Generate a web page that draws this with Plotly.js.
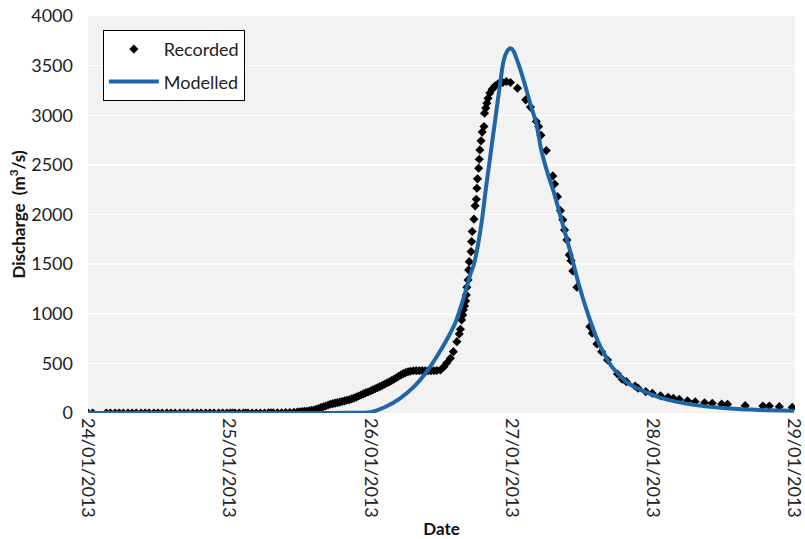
<!DOCTYPE html>
<html>
<head>
<meta charset="utf-8">
<script src="https://cdn.plot.ly/plotly-3.0.1.min.js"></script>
<style>html,body{margin:0;padding:0;background:#fff;}#chart{width:805px;height:539px;}</style>
</head>
<body>
<div id="chart"></div>
<script>
// Hours since 24/01/2013 00:00 and discharge (m3/s)
const recordedHours = [
  0, 0.8, 3.1, 3.8, 4.6, 5.3, 6.0, 6.8, 7.5, 8.2, 9.0, 9.7, 10.4, 11.2, 11.9, 12.6, 13.4, 14.1, 14.8, 15.6,
  16.3, 17.0, 17.8, 18.5, 19.2, 20.0, 20.7, 21.4, 22.2, 22.9, 23.6, 24.2, 24.6, 25.0, 25.7, 26.4, 26.8, 27.2,
  27.9, 28.6, 29.3, 30.0, 30.7, 31.1, 31.5, 32.2, 32.9, 33.6, 34.3, 35.0, 35.6,
  36.0, 36.4, 36.8, 37.2, 37.6, 38.0, 38.4, 38.8, 39.2, 39.6, 40.0, 40.4, 40.8, 41.2, 41.6, 42.0, 42.4, 42.8,
  43.2, 43.6, 44.0, 44.4, 44.8, 45.2, 45.6, 46.0, 46.4, 46.8, 47.2, 47.6, 48.0, 48.4, 48.8, 49.2, 49.6, 50.0,
  50.4, 50.8, 51.2, 51.6, 52.0, 52.4, 52.8, 53.2, 53.6, 54.0, 54.4, 54.8,
  55.3, 55.8, 56.3, 56.8, 57.3, 57.8, 58.3, 58.8, 59.3,
  59.9, 60.5, 61.0, 61.6, 62.1, 62.7, 63.1, 63.3, 63.5, 63.7, 63.8, 64.0, 64.2, 64.3, 64.4, 64.6, 64.7, 64.8,
  65.1, 65.2, 65.3, 65.6, 65.8, 66.0, 66.1, 66.2, 66.4, 66.5, 66.6, 66.8, 67.0, 67.3, 67.4, 67.6, 67.8, 68.0,
  68.3, 68.7, 69.2, 69.7, 70.5, 71.1, 71.8, 73.0, 74.4,
  75.2, 76.2, 76.6, 77.0, 77.9, 79.0, 79.3, 79.8, 80.3, 80.7, 81.0, 81.4, 81.8, 82.1, 82.4, 83.1,
  85.3, 85.7, 86.5, 87.3, 88.3, 90.0, 90.8, 91.5, 93.0, 93.5, 94.8, 95.9,
  97.3, 98.6, 99.5, 100.5, 101.9, 103.2, 104.8, 106.1, 107.7, 108.7, 111.7, 114.7, 115.8, 117.5, 119.7
];
const recordedDischarge = [
  0, 0, 0, 0, 0, 0, 0, 0, 0, 0, 0, 0, 0, 0, 0, 0, 0, 0, 0, 0,
  0, 0, 0, 0, 0, 0, 0, 0, 0, 0, 0, 0, 0, 0, 0, 0, 0, 0,
  0, 0, 0, 0, 1, 1, 1, 2, 3, 4, 5, 7, 9,
  12, 14, 16, 18, 22, 26, 30, 38, 46, 55, 63, 70, 80, 88, 94, 100, 105, 110,
  116, 122, 128, 134, 142, 150, 160, 172, 182, 193, 203, 212, 222, 233, 244, 255, 266, 277,
  290, 302, 314, 328, 340, 355, 370, 384, 397, 407, 415, 420,
  425, 427, 426, 427, 426, 426, 427, 426, 428,
  433, 467, 507, 551, 618, 719, 796, 844, 938, 988, 1038, 1079, 1129, 1190, 1267, 1341, 1442, 1525,
  1626, 1727, 1828, 1953, 2087, 2154, 2265, 2359, 2467, 2557, 2651, 2742, 2830, 2886, 3021, 3072, 3122, 3172,
  3223, 3263, 3296, 3317, 3330, 3340, 3330, 3273, 3155,
  3082, 2937, 2886, 2799, 2644, 2389, 2308, 2180, 2039, 1946, 1845, 1744, 1593, 1535, 1431, 1267,
  870, 803, 696, 618, 534, 393, 340, 316, 272, 249, 215, 199,
  174, 158, 148, 138, 124, 114, 104, 98, 91, 88, 74, 71, 71, 64, 57
];
const modelledHours = [
  0, 40, 44, 48, 50.5, 53, 55.5, 57.5, 59.5, 61, 62.5, 63.8, 65, 65.6, 66.3, 67, 67.6, 68.4, 69.2,
  70.0, 70.6, 71.2, 71.8, 72.3, 72.9, 73.7, 74.5, 75.3, 76.2, 77.0, 78.1, 79.2, 80.6, 82.0, 83.4,
  85.1, 86.8, 89.0, 91.8, 94.6, 97.5, 103, 108.6, 114.2, 120
];
const modelledDischarge = [
  0, 0, 2, 8, 60, 145, 270, 410, 590, 740, 920, 1150, 1400, 1500, 1700, 1960, 2250, 2600, 2950,
  3300, 3540, 3640, 3675, 3650, 3560, 3420, 3260, 3090, 2920, 2660, 2420, 2220, 1920, 1620, 1300,
  975, 705, 470, 300, 215, 150, 82, 48, 30, 22
];
const seriesNames = ['Recorded', 'Modelled'];
const xTitle = 'Date';
const yTitle = 'Discharge  (m<sup>3</sup>/s)';

const base = Date.UTC(2013, 0, 24);
const toDate = h => new Date(base + h * 3600000).toISOString().slice(0, 19).replace('T', ' ');

const font = 'Lato, "Open Sans", sans-serif';

const traces = [
  {
    x: recordedHours.map(toDate), y: recordedDischarge,
    type: 'scatter', mode: 'markers', name: seriesNames[0],
    legendgroup: 'a',
    marker: {symbol: 'diamond', size: 7, color: '#000000'}
  },
  {
    x: modelledHours.map(toDate), y: modelledDischarge,
    type: 'scatter', mode: 'lines', name: seriesNames[1],
    legendgroup: 'b',
    line: {color: '#1f66a6', width: 4, shape: 'spline', smoothing: 0.6}
  }
];

const layout = {
  width: 805, height: 539,
  margin: {l: 88, r: 10, t: 16, b: 126},
  paper_bgcolor: '#ffffff',
  plot_bgcolor: '#f2f2f2',
  font: {family: font, size: 17, color: '#222222'},
  showlegend: true,
  legend: {
    x: 0.021, y: 0.965, xanchor: 'left', yanchor: 'top',
    bgcolor: '#ffffff', bordercolor: '#000000', borderwidth: 1,
    font: {family: font, size: 18, color: '#222222'},
    traceorder: 'grouped', tracegroupgap: 6,
    itemwidth: 50
  },
  xaxis: {
    type: 'date',
    range: ['2013-01-24 00:00', '2013-01-29 00:10'],
    dtick: 86400000, tick0: '2013-01-24',
    tickformat: '%d/%m/%Y', tickangle: 90,
    showgrid: false, zeroline: false, showline: false, ticks: '',
    ticklabelstandoff: 4,
    ticklabeloverflow: 'allow',
    tickfont: {family: font, size: 18, color: '#222222'},
    title: {text: xTitle, font: {family: font, size: 17, color: '#111111', weight: 'bold'}, standoff: 10},
    automargin: false
  },
  yaxis: {
    range: [0, 4000], dtick: 500,
    showgrid: true, gridcolor: '#ffffff', gridwidth: 1.5,
    zeroline: false, showline: false, ticks: '',
    ticklabelstandoff: 14,
    tickfont: {family: font, size: 18, color: '#222222'},
    title: {text: yTitle, font: {family: font, size: 17, color: '#111111', weight: 'bold'}, standoff: 1},
    automargin: false
  }
};

Plotly.newPlot('chart', traces, layout, {displayModeBar: false, staticPlot: true});
</script>
</body>
</html>
